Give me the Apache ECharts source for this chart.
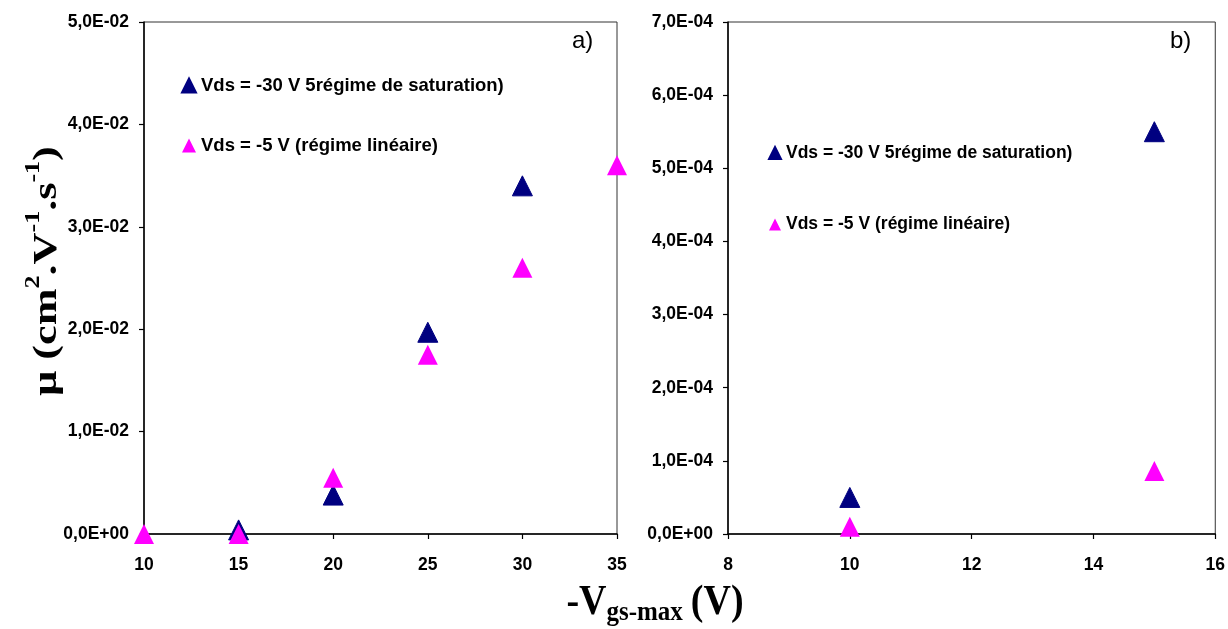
<!DOCTYPE html>
<html>
<head>
<meta charset="utf-8">
<script src="https://cdn.jsdelivr.net/npm/echarts@6/dist/echarts.min.js"></script>
<style>
  html, body { margin: 0; padding: 0; background: #fff; }
  #chart { width: 1228px; height: 629px; }
</style>
</head>
<body>
<div id="chart"></div>
<script>
// Series names
var nameSat = 'Vds = -30 V 5régime de saturation)';
var nameLin = 'Vds = -5 V (régime linéaire)';

// Panel a) : mobility vs -Vgs-max
var vgsSatA = [15, 20, 25, 30];
var muSatA  = [0.0004, 0.0038, 0.0197, 0.034];
var vgsLinA = [10, 15, 20, 25, 30, 35];
var muLinA  = [0, 0, 0.0055, 0.0175, 0.026, 0.036];

// Panel b)
var vgsSatB = [10, 15];
var muSatB  = [0.00005, 0.00055];
var vgsLinB = [10, 15];
var muLinB  = [0.00001, 0.000086];

// Panel labels
var panelLabels = ['a)', 'b)'];

function pairs(xs, ys) { return xs.map(function (x, i) { return [x, ys[i]]; }); }

// Tick label like "1,0E-02"
function sci(v) {
  if (Math.abs(v) < 1e-15) return '0,0E+00';
  var s = v.toExponential(1).split('e');
  var e = parseInt(s[1], 10);
  var sign = e < 0 ? '-' : '+';
  var ea = Math.abs(e);
  return s[0].replace('.', ',') + 'E' + sign + (ea < 10 ? '0' + ea : ea);
}

var SANS = '"Liberation Sans", Arial, sans-serif';
var SERIF = '"Liberation Serif", "Times New Roman", serif';
var BLUE = '#000080';
var PINK = '#ff00ff';

var axisLine = { show: true, onZero: false, lineStyle: { color: '#000', width: 1.5 } };
var axisTick = { show: true, inside: false, length: 5, lineStyle: { color: '#000', width: 1.2 } };
var tickLabel = { color: '#000', fontFamily: SANS, fontWeight: 'bold', fontSize: 17.5 };

function xAxis(idx, min, max, interval) {
  return {
    type: 'value', gridIndex: idx, min: min, max: max, interval: interval,
    axisLine: axisLine, axisTick: axisTick, splitLine: { show: false },
    axisLabel: Object.assign({ margin: 22 }, tickLabel)
  };
}
function yAxis(idx, min, max, interval) {
  return {
    type: 'value', gridIndex: idx, min: min, max: max, interval: interval,
    axisLine: axisLine, axisTick: axisTick, splitLine: { show: false },
    axisLabel: Object.assign({ margin: 15, formatter: sci }, tickLabel)
  };
}
function scatter(name, idx, data, color) {
  return {
    name: name, type: 'scatter', xAxisIndex: idx, yAxisIndex: idx,
    data: data, symbol: 'triangle', symbolSize: [20, 20], clip: false,
    itemStyle: { color: color, borderColor: color === BLUE ? BLUE : 'transparent', borderWidth: color === BLUE ? 1 : 0, opacity: 1 },
    emphasis: { disabled: true }, z: color === PINK ? 3 : 2
  };
}
function legend(left, top, gap, size, icon) {
  return {
    data: [nameSat, nameLin], left: left, top: top, orient: 'vertical',
    itemGap: gap, itemWidth: icon, itemHeight: icon, icon: 'triangle', selectedMode: false,
    textStyle: { color: '#000', fontFamily: SANS, fontWeight: 'bold', fontSize: size }
  };
}

var chart = echarts.init(document.getElementById('chart'), null, { renderer: 'canvas' });
chart.setOption({
  backgroundColor: '#fff',
  animation: false,
  color: [BLUE, PINK],
  legend: [legend(176, 71, 41, 18.5, 14), legend(763, 139, 53.5, 17.5, 12)],
  grid: [
    { left: 144, top: 22, width: 473, height: 512, show: true, borderColor: '#333', borderWidth: 1 },
    { left: 728, top: 22, width: 489, height: 512, show: true, borderColor: '#333', borderWidth: 1 }
  ],
  xAxis: [xAxis(0, 10, 35, 5), xAxis(1, 8, 16, 2)],
  yAxis: [yAxis(0, 0, 0.05, 0.01), yAxis(1, 0, 0.0007, 0.0001)],
  series: [
    scatter(nameSat, 0, pairs(vgsSatA, muSatA), BLUE),
    scatter(nameLin, 0, pairs(vgsLinA, muLinA), PINK),
    scatter(nameSat, 1, pairs(vgsSatB, muSatB), BLUE),
    scatter(nameLin, 1, pairs(vgsLinB, muLinB), PINK)
  ],
  graphic: [
    { type: 'text', left: 572, top: 29, style: { text: panelLabels[0], font: '24px ' + SANS, fill: '#000' } },
    { type: 'text', left: 1170, top: 29, style: { text: panelLabels[1], font: '24px ' + SANS, fill: '#000' } },
    {
      // rotated axis title, stretched along its length
      type: 'text', x: 44, y: 271, rotation: Math.PI / 2, scaleX: 1.3, scaleY: 1,
      style: {
        text: '{m|μ (cm}{s|2}{m|.V}{s|-1}{m|.s}{s|-1}{m|)}',
        align: 'center', verticalAlign: 'middle',
        rich: {
          m: { fontFamily: SERIF, fontWeight: 'bold', fontSize: 34, lineHeight: 40, verticalAlign: 'bottom', fill: '#000' },
          s: { fontFamily: SERIF, fontWeight: 'bold', fontSize: 20, lineHeight: 40, verticalAlign: 'top', padding: [0, 0, 14, 0], fill: '#000' }
        }
      }
    },
    {
      type: 'text', x: 655, y: 603, scaleX: 1, scaleY: 1.12,
      style: {
        text: '{m|-V}{s|gs-max}{p|(V)}',
        align: 'center', verticalAlign: 'middle',
        rich: {
          m: { fontFamily: SERIF, fontWeight: 'bold', fontSize: 38, lineHeight: 44, fill: '#000' },
          p: { fontFamily: SERIF, fontWeight: 'bold', fontSize: 38, lineHeight: 44, padding: [0, 0, 0, 8], fill: '#000' },
          s: { fontFamily: SERIF, fontWeight: 'bold', fontSize: 25, lineHeight: 44, padding: [18, 0, 0, 0], fill: '#000' }
        }
      }
    }
  ]
});
</script>
</body>
</html>
